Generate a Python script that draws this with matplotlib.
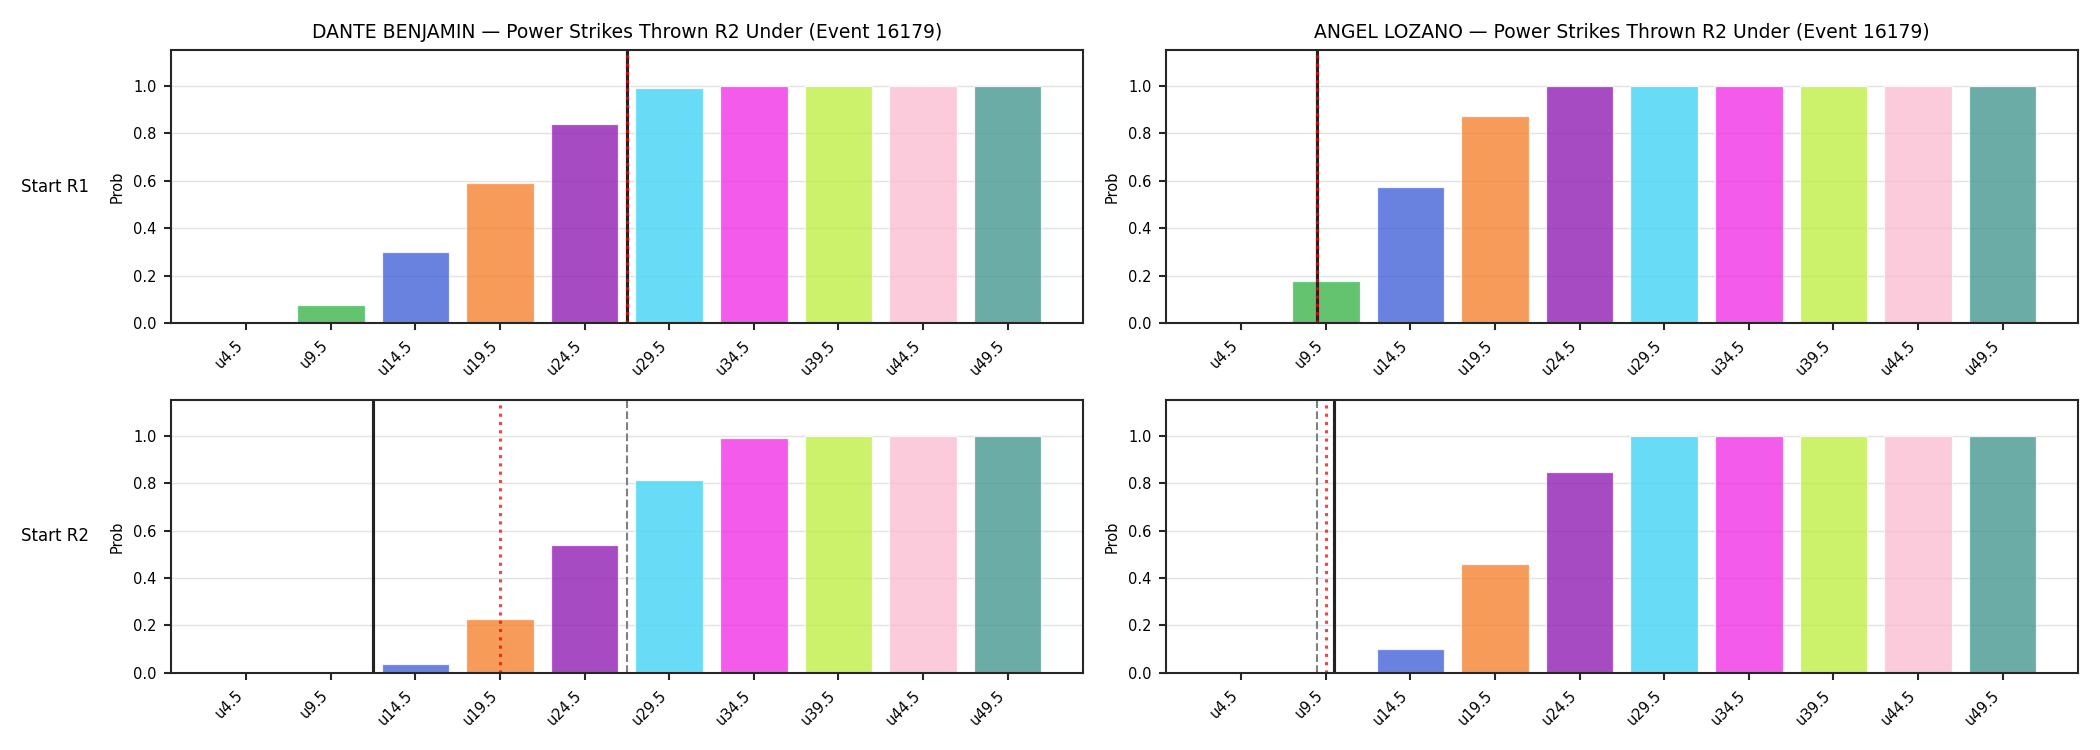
import matplotlib
matplotlib.use("Agg")
import matplotlib.pyplot as plt
import numpy as np

event_id = 16179
fighters = ["DANTE BENJAMIN", "ANGEL LOZANO"]
row_labels = ["Start R1", "Start R2"]
market = "Power Strikes Thrown R2 Under"
lines = ["u4.5", "u9.5", "u14.5", "u19.5", "u24.5", "u29.5", "u34.5", "u39.5", "u44.5", "u49.5"]
bar_colors = ["#e6194b", "#3cb44b", "#4363d8", "#f58231", "#911eb4",
              "#42d4f4", "#f032e6", "#bfef45", "#fabed4", "#469990"]

# probabilities, [row][fighter]
dante_r1 = [0.0, 0.075, 0.299, 0.591, 0.837, 0.989, 0.998, 0.999, 1.0, 1.0]
angel_r1 = [0.005, 0.176, 0.574, 0.874, 0.998, 1.0, 1.0, 1.0, 1.0, 1.0]
dante_r2 = [0.0, 0.0, 0.038, 0.227, 0.541, 0.811, 0.989, 0.998, 0.999, 0.999]
angel_r2 = [0.0, 0.002, 0.101, 0.457, 0.845, 0.998, 0.999, 1.0, 1.0, 1.0]
probs = [[dante_r1, angel_r1], [dante_r2, angel_r2]]

# marker positions on the line index scale
ref_pos = [[4.5, 0.9], [4.5, 0.9]]      # gray dashed
actual_pos = [[4.5, 0.9], [1.5, 1.1]]   # solid
proj_pos = [[4.5, 0.9], [3.0, 1.0]]     # red dotted

fig, axes = plt.subplots(2, 2, figsize=(14, 5), dpi=150)
fig.subplots_adjust(left=0.0814, right=0.9895, bottom=0.1027, top=0.9333,
                    wspace=0.091, hspace=0.282)

x = np.arange(len(lines))
for r in range(2):
    for c in range(2):
        ax = axes[r][c]
        ax.set_axisbelow(True)
        ax.grid(axis="y", color="#e3e3e3", linewidth=0.7)
        ax.bar(x, probs[r][c], color=bar_colors, alpha=0.8,
               edgecolor="white", linewidth=0.6, width=0.8)
        ax.axvline(ref_pos[r][c], color="gray", linestyle="--", linewidth=1.0)
        ax.axvline(actual_pos[r][c], color="#222222", linewidth=1.5)
        ax.axvline(proj_pos[r][c], color="red", linestyle=":", linewidth=1.5, alpha=0.75)
        ax.set_ylim(0, 1.15)
        ax.set_yticks([0, 0.2, 0.4, 0.6, 0.8, 1.0])
        ax.set_xticks(x)
        ax.set_xticklabels(lines, rotation=45, ha="right")
        ax.tick_params(labelsize=7, width=1.0, length=3.5, color="#262626")
        ax.set_ylabel("Prob", fontsize=7)
        for s in ax.spines.values():
            s.set_linewidth(1.0)
            s.set_color("#262626")
        if r == 0:
            ax.set_title(f"{fighters[c]} \u2014 {market} (Event {event_id})", fontsize=9)
        if c == 0:
            ax.annotate(row_labels[r], xy=(-0.09, 0.5), xycoords="axes fraction",
                        ha="right", va="center", fontsize=8)

fig.savefig("out.png", dpi=150)
